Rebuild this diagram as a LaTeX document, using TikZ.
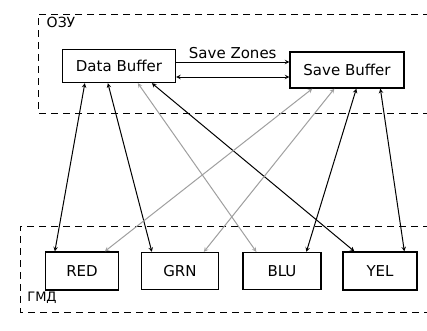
\documentclass[tikz,border=0pt]{standalone}
\usepackage{fontspec}
\setmainfont{DejaVu Sans}
\usepackage{tikz}
\usetikzlibrary{arrows,positioning}

\begin{document}
\begin{tikzpicture}[x=1pt, y=-1pt, >=stealth,
		blockbox/.style={draw, line width=1.3pt, inner sep=0pt, font=\fontsize{15}{17}\selectfont},
		zonebox/.style={draw, line width=1pt, dash pattern=on 7pt off 5pt},
		link/.style={<->, line width=1pt},
		lightlink/.style={<->, line width=1pt, gray!75}]
			\useasboundingbox (0, 0) rectangle (427, 330);
			\draw [zonebox] (430, 14) -- (38, 14) -- (38, 113) -- (430, 113);
			\draw [zonebox] (430, 226) -- (20, 226) -- (20, 312) -- (430, 312);
			\node (ozu) at (61, 22) {\fontsize{14}{16}\selectfont ОЗУ};
			\node (gmd) at (42, 298) {\fontsize{13}{15}\selectfont ГМД};

			\node [blockbox, minimum width=113pt, minimum height=33pt] (db) at (119, 66) {Data Buffer};
			\node [blockbox, minimum width=114pt, minimum height=36pt] (sb) at (347, 70) {Save Buffer};

			\node [blockbox, minimum width=73pt, minimum height=38pt] (red) at (82, 271) {RED};
			\node [blockbox, minimum width=77pt, minimum height=37pt] (grn) at (180, 271) {GRN};
			\node [blockbox, minimum width=78pt, minimum height=37pt] (blu) at (282, 271) {BLU};
			\node [blockbox, minimum width=74pt, minimum height=38pt] (yel) at (380, 271) {YEL};

			\draw [->, line width=1pt] ([yshift=4pt]db.east) to node [above=-1pt] {\fontsize{15}{17}\selectfont Save Zones} ([yshift=4pt]db.east -| sb.west);
			\draw [<->, line width=1pt] ([yshift=-11pt]db.east) to ([yshift=-11pt]db.east -| sb.west);

			\draw [link] ([xshift=23pt]db.south west) to ([xshift=10pt]red.north west);
			\draw [link] ([xshift=46pt]db.south west) to ([xshift=11pt]grn.north west);
			\draw [lightlink] ([xshift=76pt]db.south west) to ([xshift=14pt]blu.north west);
			\draw [link] ([xshift=90pt]db.south west) to ([xshift=12pt]yel.north west);

			\draw [lightlink] ([xshift=23pt]sb.south west) to ([xshift=60pt]red.north west);
			\draw [lightlink] ([xshift=45pt]sb.south west) to ([xshift=63pt]grn.north west);
			\draw [link] ([xshift=67pt]sb.south west) to ([xshift=64pt]blu.north west);
			\draw [link] ([xshift=91pt]sb.south west) to ([xshift=62pt]yel.north west);
		\end{tikzpicture}
\end{document}
